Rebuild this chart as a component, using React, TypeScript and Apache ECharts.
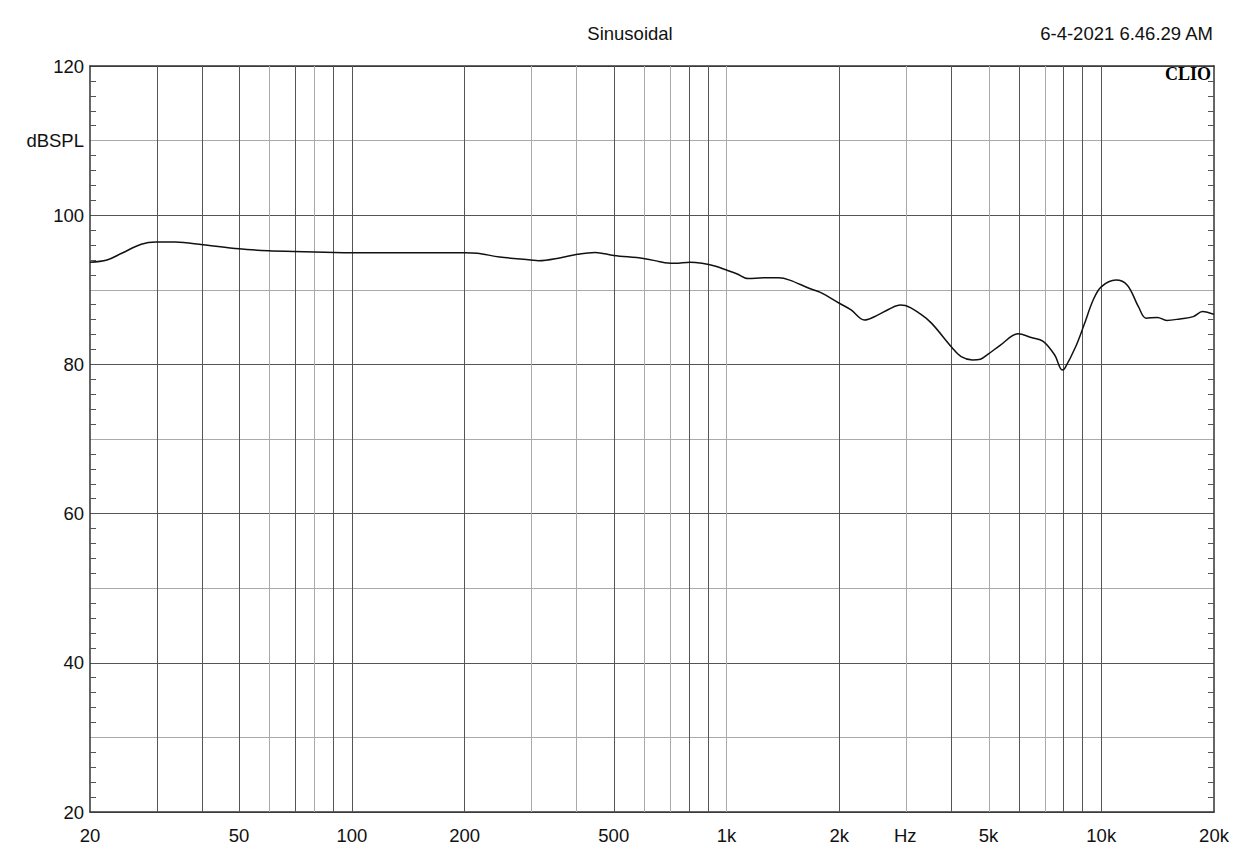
import React, { useEffect, useRef } from "react";
import * as echarts from "echarts";

// Frequency response (Hz, dB SPL)
const FREQS = [
  20, 22.2, 24.3, 27.4, 30, 33.8, 40, 50, 60, 70, 90, 100, 200, 216, 248, 300,
  315, 361, 400, 446, 500, 600, 664, 696, 728, 800, 860, 930, 1000, 1064, 1142,
  1254, 1376, 1474, 1660, 1780, 2000, 2150, 2332, 2530, 2712, 2910, 3000, 3290,
  3528, 4000, 4228, 4532, 4760, 5000, 5372, 6000, 6504, 7000, 7512, 7872, 8000,
  8552, 9000, 9512, 10000, 10950, 11740, 12580, 13170, 14120, 14960, 16220,
  17600, 18640, 20000,
];
const SPL = [
  93.7, 94.0, 94.9, 96.1, 96.4, 96.4, 96.05, 95.5, 95.24, 95.15, 95.0, 94.97,
  94.97, 94.9, 94.4, 94.0, 93.9, 94.3, 94.76, 95.0, 94.6, 94.2, 93.77, 93.6,
  93.55, 93.7, 93.55, 93.2, 92.65, 92.16, 91.5, 91.6, 91.6, 91.3, 90.2, 89.66,
  88.2, 87.3, 85.95, 86.6, 87.4, 87.96, 87.9, 86.76, 85.5, 82.24, 81.04, 80.6,
  80.7, 81.4, 82.56, 84.1, 83.6, 83.1, 81.26, 79.25, 79.5, 82.4, 85.3, 88.6,
  90.4, 91.3, 90.6, 87.7, 86.2, 86.3, 85.9, 86.1, 86.4, 87.1, 86.7,
];

// X axis tick labels
const X_LABEL_FREQS = [20, 50, 100, 200, 500, 1000, 2000, 3000, 5000, 10000, 20000];
const X_LABELS = ["20", "50", "100", "200", "500", "1k", "2k", "Hz", "5k", "10k", "20k"];

// Vertical grid lines
const GRID_FREQS = [
  30, 40, 50, 60, 70, 80, 90, 100, 200, 300, 400, 500, 600, 700, 800, 900, 1000,
  2000, 3000, 4000, 5000, 6000, 7000, 8000, 9000, 10000,
];
const LIGHT_GRID_FREQS = [60, 80, 300, 400, 600, 700, 1000, 3000, 5000, 7000];

// Y axis
const Y_MIN = 20;
const Y_MAX = 120;
const Y_LABELS: Record<number, string> = {
  20: "20", 40: "40", 60: "60", 80: "80", 100: "100", 110: "dBSPL", 120: "120",
};

const TITLE = "Sinusoidal";
const DATE = "6-4-2021 6.46.29 AM";
const BRAND = "CLIO";

const FONT = "'Liberation Sans', Arial, sans-serif";

export default function App() {
  const ref = useRef<HTMLDivElement>(null);

  useEffect(() => {
    if (!ref.current) return;
    const chart = echarts.init(ref.current, undefined, { renderer: "svg" });
    const xMin = Math.log10(20);
    const xMax = Math.log10(20000);
    const data = FREQS.map((f, i) => [Math.log10(f), SPL[i]]);
    const labelVals = X_LABEL_FREQS.map((f) => Math.log10(f));

    chart.setOption({
      animation: false,
      backgroundColor: "#ffffff",
      grid: { left: 90, right: 46, top: 66, bottom: 47, containLabel: false },
      graphic: [
        {
          type: "text",
          x: 630,
          y: 33,
          style: {
            text: TITLE,
            font: `18.5px ${FONT}`,
            fill: "#111",
            align: "center",
            verticalAlign: "middle",
          },
        },
        {
          type: "text",
          x: 1213,
          y: 33,
          style: {
            text: DATE,
            font: `18.5px ${FONT}`,
            fill: "#111",
            align: "right",
            verticalAlign: "middle",
          },
        },
        {
          type: "text",
          x: 1211,
          y: 74,
          z: 100,
          style: {
            text: BRAND,
            font: `bold 18px 'Liberation Serif', 'Times New Roman', serif`,
            fill: "#000",
            align: "right",
            verticalAlign: "middle",
          },
        },
      ],
      xAxis: [
        {
          type: "value",
          min: xMin,
          max: xMax,
          position: "bottom",
          axisLine: { show: true, onZero: false, lineStyle: { color: "#333", width: 1.5 } },
          axisTick: { show: false },
          splitLine: { show: false },
          axisLabel: {
            show: true,
            customValues: labelVals,
            margin: 14,
            color: "#111",
            fontFamily: FONT,
            fontSize: 18.5,
            formatter: (v: number) => {
              const i = labelVals.findIndex((lv) => Math.abs(lv - v) < 1e-6);
              return i >= 0 ? X_LABELS[i] : "";
            },
          },
        },
        {
          type: "value",
          min: xMin,
          max: xMax,
          position: "top",
          axisLine: { show: true, onZero: false, lineStyle: { color: "#333", width: 1.5 } },
          axisTick: { show: false },
          axisLabel: { show: false },
          splitLine: { show: false },
        },
      ],
      yAxis: [
        {
          type: "value",
          min: Y_MIN,
          max: Y_MAX,
          interval: 10,
          position: "left",
          axisLine: { show: true, onZero: false, lineStyle: { color: "#333", width: 1.5 } },
          axisTick: { show: false, inside: true },
          minorTick: { show: true, splitNumber: 5, length: 6, lineStyle: { color: "#555", width: 1 } },
          splitLine: { show: true, lineStyle: { color: ["#555", "#aaa"], width: 1 } },
          axisLabel: {
            show: true,
            inside: false,
            margin: 6,
            color: "#111",
            fontFamily: FONT,
            fontSize: 18.5,
            formatter: (v: number) => Y_LABELS[Math.round(v)] ?? "",
          },
        },
        {
          type: "value",
          min: Y_MIN,
          max: Y_MAX,
          interval: 10,
          position: "right",
          axisLine: { show: true, onZero: false, lineStyle: { color: "#333", width: 1.5 } },
          axisTick: { show: false, inside: true },
          minorTick: { show: true, splitNumber: 5, length: 6, lineStyle: { color: "#555", width: 1 } },
          splitLine: { show: false },
          axisLabel: { show: false },
        },
      ],
      series: [
        {
          type: "line",
          name: "grid",
          data: [],
          z: 1,
          silent: true,
          markLine: {
            silent: true,
            symbol: "none",
            label: { show: false },
            lineStyle: { type: "solid", width: 1, color: "#555" },
            data: GRID_FREQS.map((f) => ({
              xAxis: Math.log10(f),
              lineStyle: {
                type: "solid",
                width: 1,
                color: LIGHT_GRID_FREQS.includes(f) ? "#aaa" : "#555",
              },
            })),
          },
        },
        {
          type: "line",
          name: "SPL",
          data,
          z: 5,
          showSymbol: false,
          smooth: 0.35,
          lineStyle: { color: "#111", width: 1.5 },
        },
      ],
    });
    return () => chart.dispose();
  }, []);

  return (
    <div
      ref={ref}
      style={{ position: "fixed", left: 0, top: 0, width: 1260, height: 859, background: "#fff" }}
    />
  );
}
